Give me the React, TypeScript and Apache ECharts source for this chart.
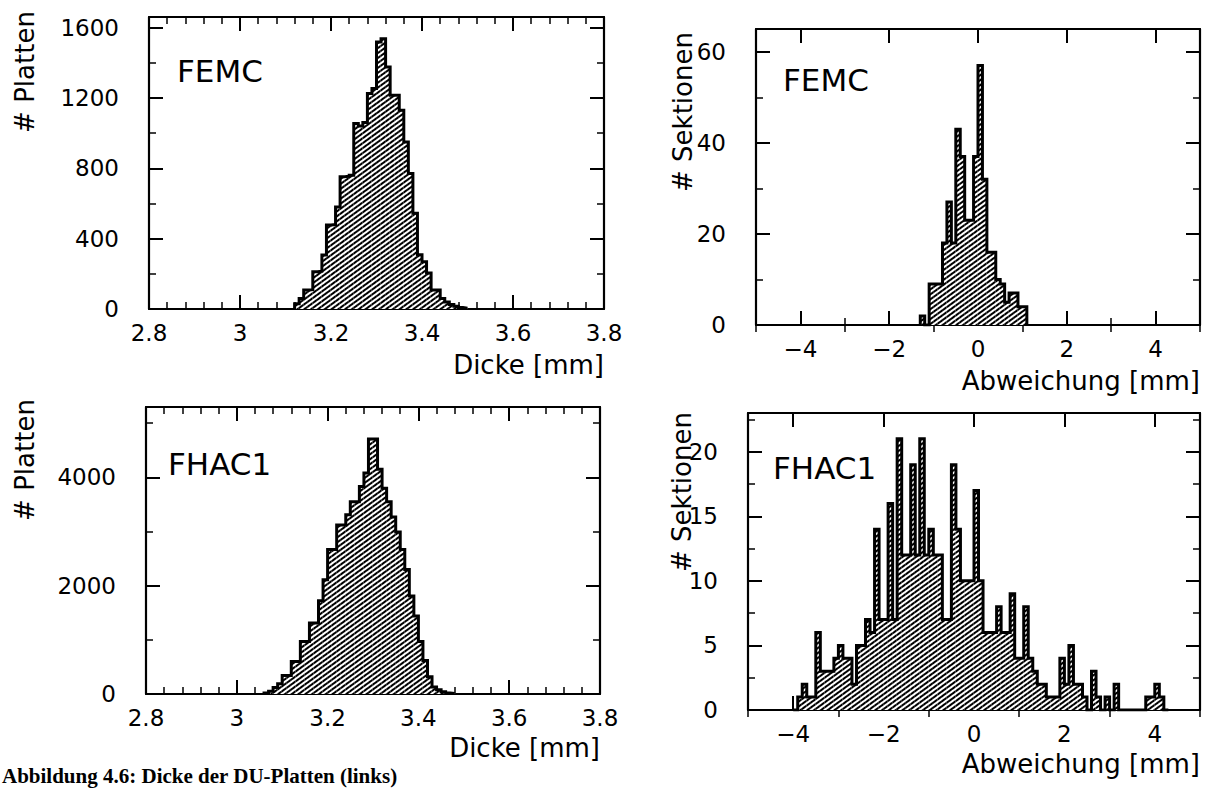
import React, { useEffect, useRef } from 'react';
import * as echarts from 'echarts';

// ---------------- data ----------------
// FEMC plate thickness histogram (bin lower edge start, bin width, counts)
const dickeFemcStart = 3.12;
const dickeFemcBin = 0.01;
const dickeFemcCounts = [30, 60, 108, 110, 212, 215, 307, 477, 480, 580, 752, 755, 760, 1055, 1040, 1060, 1225, 1253, 1518, 1537, 1376, 1215, 1215, 1130, 950, 771, 545, 308, 269, 204, 108, 108, 60, 40, 25, 15, 8, 4];

// FEMC section deviation histogram
const abwFemcStart = -1.3;
const abwFemcBin = 0.1;
const abwFemcCounts = [2, 0, 9, 9, 9, 18, 27, 18, 43, 37, 23, 23, 37, 57, 32, 16, 16, 10, 9, 5, 7, 7, 4, 4];

// FHAC1 plate thickness histogram
const dickeFhacStart = 3.06;
const dickeFhacBin = 0.01;
const dickeFhacCounts = [20, 50, 120, 190, 340, 340, 600, 600, 970, 970, 1310, 1310, 1720, 2110, 2670, 2670, 3120, 3120, 3310, 3550, 3550, 3830, 4080, 4710, 4710, 4150, 3800, 3550, 3270, 2990, 2670, 2300, 1810, 1440, 970, 620, 320, 130, 80, 40, 20, 10];

// FHAC1 section deviation histogram
const abwFhacStart = -4.0;
const abwFhacBin = 0.1;
const abwFhacCounts = [0, 1, 2, 1, 1, 6, 3, 3, 3, 4, 5, 4, 4, 2, 5, 5, 7, 6, 14, 7, 7, 16, 7, 21, 12, 12, 19, 12, 21, 12, 14, 12, 12, 7, 7, 19, 14, 10, 10, 10, 17, 10, 6, 6, 6, 8, 6, 6, 9, 4, 4, 8, 4, 3, 2, 2, 1, 1, 1, 4, 2, 5, 2, 2, 1, 0, 3, 1, 0, 1, 0, 2, 0, 0, 0, 0, 0, 0, 1, 1, 2, 1, 0];

// axis ranges / ticks
const dickeRange = [2.8, 3.8];
const dickeInterval = 0.2;
const abwRange = [-5, 5];
const abwMajorTicks = [-4, -2, 0, 2, 4];
const abwMinorTicks = [-5, -3, -1, 1, 3, 5];
const yFemcDickeMax = 1660;
const yFemcAbwMax = 65;
const yFhacDickeMax = 5300;
const yFhacAbwMax = 23;

// texts
const yTitlePlatten = '# Platten';
const yTitleSektionen = '# Sektionen';
const xTitleDicke = 'Dicke [mm]';
const xTitleAbw = 'Abweichung [mm]';
const labelFemc = 'FEMC';
const labelFhac = 'FHAC1';
const caption = 'Abbildung 4.6: Dicke der DU-Platten (links)';

// ---------------- helpers ----------------
const FONT = '"DejaVu Sans", "Liberation Sans", sans-serif';
const BLACK = '#000';

const GRIDS = [
  { left: 149, top: 17, width: 455, height: 292 }, // TL
  { left: 756, top: 29, width: 444, height: 296 }, // TR
  { left: 146, top: 407, width: 454, height: 287 }, // BL
  { left: 748, top: 413, width: 452, height: 297 }, // BR
];

const HATCH = {
  symbol: 'rect',
  symbolSize: 1,
  dashArrayX: [1, 0],
  dashArrayY: [2, 2],
  rotation: -Math.PI / 5,
  color: '#000',
  backgroundColor: '#fff',
};

function barsData(start: number, bin: number, counts: number[]) {
  return counts.map((c, i) => [start + bin * (i + 0.5), c]);
}
function outlineData(start: number, bin: number, counts: number[]) {
  const pts: number[][] = [[start, 0]];
  counts.forEach((c, i) => {
    const a = start + bin * i;
    pts.push([a, c], [a + bin, c]);
  });
  pts.push([start + bin * counts.length, 0]);
  return pts;
}

const labelStyle = { show: true, color: BLACK, fontFamily: FONT, fontSize: 23 };
const plainNum = (v: number) => String(Math.round(v * 1000) / 1000);

function baseAxis(gridIndex: number, position: string, min: number, max: number, extra: any = {}) {
  return {
    type: 'value',
    gridIndex,
    position,
    min,
    max,
    axisLine: { show: true, onZero: false, lineStyle: { color: BLACK, width: 2.2 } },
    axisTick: { show: true, inside: true, length: 14, lineStyle: { color: BLACK, width: 2 } },
    axisLabel: { show: false },
    splitLine: { show: false },
    ...extra,
  };
}

function dickeXAxes(gridIndex: number) {
  const minor = { show: true, splitNumber: 5, length: 7, lineStyle: { color: BLACK, width: 1.5 } };
  return [
    baseAxis(gridIndex, 'bottom', dickeRange[0], dickeRange[1], {
      interval: dickeInterval,
      minorTick: minor,
      axisLabel: { ...labelStyle, margin: 12, formatter: plainNum },
    }),
    baseAxis(gridIndex, 'top', dickeRange[0], dickeRange[1], { interval: dickeInterval, minorTick: minor }),
  ];
}

function abwXAxes(gridIndex: number) {
  const major = { show: true, inside: true, length: 14, customValues: abwMajorTicks, lineStyle: { color: BLACK, width: 2 } };
  const minor = { show: true, inside: true, length: 7, customValues: abwMinorTicks, lineStyle: { color: BLACK, width: 1.5 } };
  return [
    baseAxis(gridIndex, 'bottom', abwRange[0], abwRange[1], {
      axisTick: major,
      axisLabel: { ...labelStyle, margin: 12, customValues: abwMajorTicks, formatter: (v: number) => (v < 0 ? '\u2212' + Math.abs(v) : String(v)) },
    }),
    baseAxis(gridIndex, 'bottom', abwRange[0], abwRange[1], { axisLine: { show: false }, axisTick: minor }),
    baseAxis(gridIndex, 'top', abwRange[0], abwRange[1], { axisTick: major }),
    baseAxis(gridIndex, 'top', abwRange[0], abwRange[1], { axisLine: { show: false }, axisTick: minor }),
  ];
}

function yAxes(gridIndex: number, max: number, interval: number) {
  const minor = { show: true, splitNumber: 2, length: 7, lineStyle: { color: BLACK, width: 1.5 } };
  return [
    baseAxis(gridIndex, 'left', 0, max, {
      interval,
      minorTick: minor,
      axisLabel: { ...labelStyle, margin: 30, showMaxLabel: false, formatter: plainNum },
    }),
    baseAxis(gridIndex, 'right', 0, max, { interval, minorTick: minor }),
  ];
}

function histSeries(xIdx: number, yIdx: number, grid: any, range: number[], start: number, bin: number, counts: number[]) {
  const bw = (grid.width * bin) / (range[1] - range[0]) + 0.8;
  return [
    {
      type: 'bar',
      xAxisIndex: xIdx,
      yAxisIndex: yIdx,
      data: barsData(start, bin, counts),
      barWidth: bw,
      silent: true,
      itemStyle: { color: '#fff', borderWidth: 0, decal: HATCH },
      z: 2,
    },
    {
      type: 'line',
      xAxisIndex: xIdx,
      yAxisIndex: yIdx,
      data: outlineData(start, bin, counts),
      symbol: 'none',
      silent: true,
      lineStyle: { color: BLACK, width: 3, join: 'miter' },
      z: 3,
    },
  ];
}

function txt(x: number, y: number, text: string, size: number, align: string, opts: any = {}) {
  return {
    type: 'text',
    x,
    y,
    silent: true,
    rotation: opts.rotation || 0,
    style: {
      text,
      font: opts.font || `${size}px ${FONT}`,
      fill: BLACK,
      align,
      verticalAlign: opts.va || 'middle',
    },
  };
}

export default function App() {
  const ref = useRef<HTMLDivElement>(null);
  useEffect(() => {
    if (!ref.current) return;
    const chart = echarts.init(ref.current, null, { renderer: 'svg' });
    const xAxis = [
      ...dickeXAxes(0), // 0,1
      ...abwXAxes(1), // 2..5
      ...dickeXAxes(2), // 6,7
      ...abwXAxes(3), // 8..11
    ];
    const yAxis = [
      ...yAxes(0, yFemcDickeMax, 400), // 0,1
      ...yAxes(1, yFemcAbwMax, 20), // 2,3
      ...yAxes(2, yFhacDickeMax, 2000), // 4,5
      ...yAxes(3, yFhacAbwMax, 5), // 6,7
    ];
    const series = [
      ...histSeries(0, 0, GRIDS[0], dickeRange, dickeFemcStart, dickeFemcBin, dickeFemcCounts),
      ...histSeries(2, 2, GRIDS[1], abwRange, abwFemcStart, abwFemcBin, abwFemcCounts),
      ...histSeries(6, 4, GRIDS[2], dickeRange, dickeFhacStart, dickeFhacBin, dickeFhacCounts),
      ...histSeries(8, 6, GRIDS[3], abwRange, abwFhacStart, abwFhacBin, abwFhacCounts),
    ];
    const graphic = [
      txt(25, 72, yTitlePlatten, 26, 'center', { rotation: Math.PI / 2 }),
      txt(683, 112, yTitleSektionen, 26, 'center', { rotation: Math.PI / 2 }),
      txt(25, 460, yTitlePlatten, 26, 'center', { rotation: Math.PI / 2 }),
      txt(682, 492, yTitleSektionen, 26, 'center', { rotation: Math.PI / 2 }),
      txt(177, 71, labelFemc, 31, 'left'),
      txt(783, 80, labelFemc, 31, 'left'),
      txt(168, 464, labelFhac, 31, 'left'),
      txt(773, 468, labelFhac, 31, 'left'),
      txt(604, 365, xTitleDicke, 26, 'right'),
      txt(1200, 381, xTitleAbw, 26, 'right'),
      txt(600, 748, xTitleDicke, 26, 'right'),
      txt(1200, 764, xTitleAbw, 26, 'right'),
      txt(2, 765, caption, 21, 'left', { va: 'top', font: 'bold 21px "Liberation Serif", serif' }),
    ];
    chart.setOption({
      animation: false,
      backgroundColor: '#fff',
      grid: GRIDS.map((g) => ({ ...g, containLabel: false })),
      xAxis,
      yAxis,
      series,
      graphic: { elements: graphic },
    });
    return () => chart.dispose();
  }, []);
  return (
    <div
      ref={ref}
      style={{ position: 'fixed', left: 0, top: 0, width: 1215, height: 788, background: '#fff' }}
    />
  );
}
